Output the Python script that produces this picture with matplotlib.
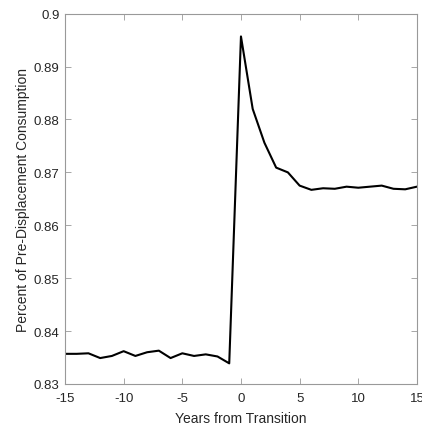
import matplotlib
matplotlib.use("Agg")
import matplotlib.pyplot as plt
from matplotlib.ticker import FuncFormatter


YEARS = list(range(-15, 16))
CONSUMPTION = [
    0.8357, 0.8357, 0.8358, 0.8349, 0.8353, 0.8362, 0.8353, 0.8360,
    0.8363, 0.8349, 0.8358, 0.8353, 0.8356, 0.8352, 0.8339,
    0.8957,
    0.8820, 0.8756, 0.8709, 0.8700, 0.8675, 0.8667, 0.8670, 0.8669,
    0.8673, 0.8671, 0.8673, 0.8675, 0.8669, 0.8668, 0.8673,
]
X_TICKS = [-15, -10, -5, 0, 5, 10, 15]
Y_TICKS = [0.83, 0.84, 0.85, 0.86, 0.87, 0.88, 0.89, 0.90]

AXIS_GRAY = "#262626"
EDGE_GRAY = "#999999"

plt.rcParams["font.family"] = ["Liberation Sans", "DejaVu Sans"]
plt.rcParams["axes.unicode_minus"] = False

fig = plt.figure(figsize=(4.22, 4.27), dpi=100)
ax = fig.add_axes([0.154, 0.0984, 0.834, 0.8672])

ax.plot(YEARS, CONSUMPTION, color="black", linewidth=1.5)

ax.set_xlim(-15, 15)
ax.set_ylim(0.83, 0.90)
ax.set_xticks(X_TICKS)
ax.set_yticks(Y_TICKS)
ax.yaxis.set_major_formatter(FuncFormatter(lambda v, _: f"{v:g}"))

ax.tick_params(direction="in", top=True, right=True, length=4, width=0.6,
               color=EDGE_GRAY, labelcolor=AXIS_GRAY, labelsize=9.5)
ax.tick_params(axis="x", pad=6)
ax.tick_params(axis="y", pad=4)
for spine in ax.spines.values():
    spine.set_color(EDGE_GRAY)
    spine.set_linewidth(0.8)

ax.set_xlabel("Years from Transition", fontsize=10, color=AXIS_GRAY, labelpad=4.5)
ax.set_ylabel("Percent of Pre-Displacement Consumption", fontsize=10,
              color=AXIS_GRAY, labelpad=2.5)

fig.savefig("out.png", dpi=100)
